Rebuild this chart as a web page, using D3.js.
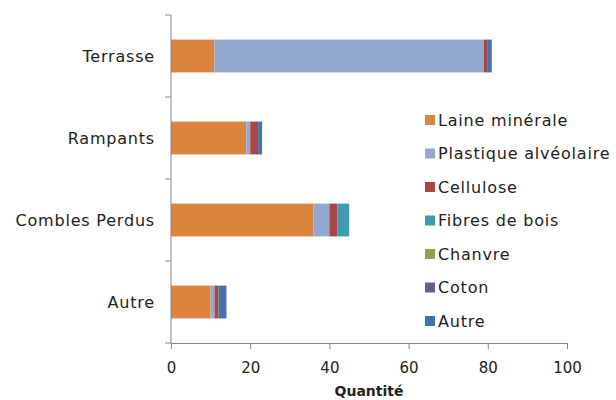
<!DOCTYPE html>
<html>
<head>
<meta charset="utf-8">
<script src="https://cdn.jsdelivr.net/npm/d3@7"></script>
<style>
  body { margin: 0; background: #fff; }
  text { font-family: "DejaVu Sans", sans-serif; fill: #222; }
</style>
</head>
<body>
<div class="canvas"></div>
<script>
// data
const categories = ['Terrasse', 'Rampants', 'Combles Perdus', 'Autre'];
const seriesNames = ['Laine minérale', 'Plastique alvéolaire', 'Cellulose', 'Fibres de bois', 'Chanvre', 'Coton', 'Autre'];
const laine = [11, 19, 36, 10];
const plastique = [68, 1, 4, 1];
const cellulose = [1, 2, 2, 1];
const fibres = [0, 0, 3, 0];
const chanvre = [0, 0, 0, 0];
const coton = [0, 0, 0, 0];
const autre = [1, 1, 0, 2];
const xTicks = [0, 20, 40, 60, 80, 100];

const colors = ['#DB843D', '#93A9CF', '#AA4643', '#4198AF', '#89A54E', '#71588F', '#4572A7'];
const seriesValues = [laine, plastique, cellulose, fibres, chanvre, coton, autre];

const width = 616, height = 400;
const margin = { top: 15, right: 49, bottom: 57, left: 171 };

const svg = d3.select('.canvas')
  .append('svg')
  .attr('width', width)
  .attr('height', height);

const table = categories.map((c, i) => {
  const row = { cat: c };
  seriesNames.forEach((s, j) => row[s] = seriesValues[j][i]);
  return row;
});
const stacked = d3.stack().keys(seriesNames)(table);

const x = d3.scaleLinear().domain([0, 100]).range([margin.left, width - margin.right]);
const y = d3.scaleBand().domain(categories)
  .range([margin.top, height - margin.bottom])
  .paddingInner(0.6).paddingOuter(0.3);

// bars
svg.append('g').selectAll('g')
  .data(stacked)
  .join('g')
    .attr('fill', (d, i) => colors[i])
  .selectAll('rect')
  .data(d => d)
  .join('rect')
    .attr('x', d => x(d[0]))
    .attr('y', d => y(d.data.cat))
    .attr('width', d => x(d[1]) - x(d[0]))
    .attr('height', y.bandwidth());

// x axis
const xAxis = svg.append('g')
  .attr('transform', `translate(0,${height - margin.bottom})`)
  .call(d3.axisBottom(x).tickValues(xTicks).tickSizeInner(6).tickSizeOuter(0).tickPadding(13));
xAxis.select('.domain').attr('stroke', '#868686');
xAxis.selectAll('.tick line').attr('stroke', '#868686');
xAxis.selectAll('text').style('font-size', '15px').attr('fill', '#222');

// y axis with ticks between categories
const yAxis = svg.append('g');
yAxis.append('line')
  .attr('x1', margin.left).attr('x2', margin.left)
  .attr('y1', margin.top).attr('y2', height - margin.bottom)
  .attr('stroke', '#868686');
const bounds = d3.range(categories.length + 1).map(i => margin.top + i * y.step());
yAxis.selectAll('.btick')
  .data(bounds)
  .join('line')
    .attr('x1', margin.left - 6).attr('x2', margin.left)
    .attr('y1', d => d).attr('y2', d => d)
    .attr('stroke', '#868686');
yAxis.selectAll('.lab')
  .data(categories)
  .join('text')
    .attr('x', margin.left - 16)
    .attr('y', d => y(d) + y.bandwidth() / 2)
    .attr('dy', '0.35em')
    .attr('text-anchor', 'end')
    .style('font-size', '16px')
    .style('letter-spacing', '0.8px')
    .text(d => d);

// axis title
svg.append('text')
  .attr('x', (x(0) + x(100)) / 2)
  .attr('y', 396)
  .attr('text-anchor', 'middle')
  .style('font-size', '14px')
  .style('font-weight', 'bold')
  .text('Quantité');

// legend
const legend = svg.append('g').attr('transform', 'translate(425,120)');
const items = legend.selectAll('g')
  .data(seriesNames)
  .join('g')
    .attr('transform', (d, i) => `translate(0,${i * 33.5})`);
items.append('rect')
  .attr('x', 0).attr('y', -5)
  .attr('width', 10).attr('height', 10)
  .attr('fill', (d, i) => colors[i]);
items.append('text')
  .attr('x', 13)
  .attr('dy', '0.35em')
  .style('font-size', '16px')
  .style('letter-spacing', '0.8px')
  .text(d => d);
</script>
</body>
</html>
